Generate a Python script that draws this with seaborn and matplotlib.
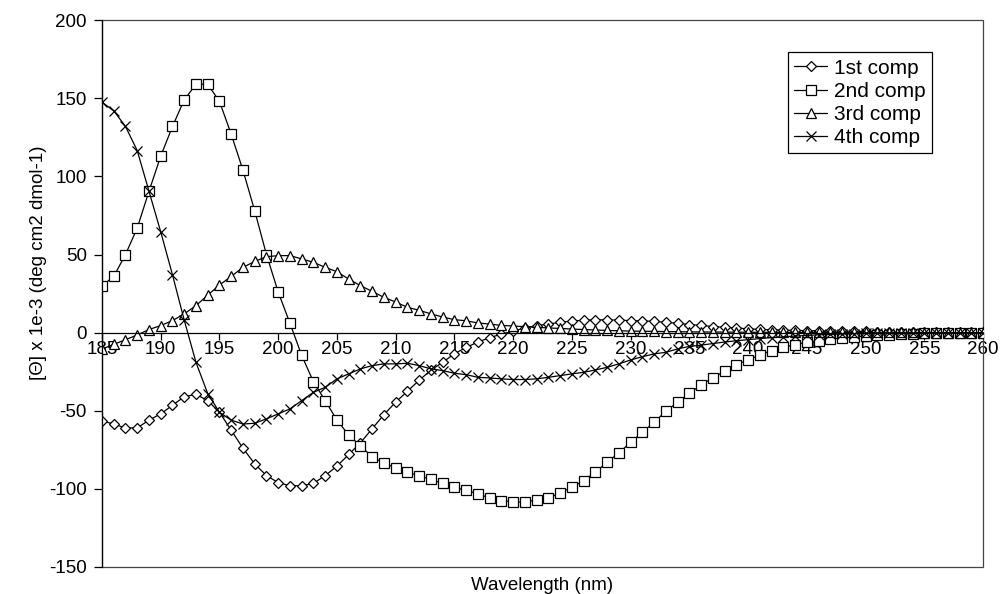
import numpy as np
import matplotlib
matplotlib.use('Agg')
import matplotlib.pyplot as plt
from matplotlib.patches import Rectangle
import seaborn as sns

# wavelengths, one reading per nm
wavelength = np.arange(185, 261)

comp1 = [-56.5, -58.5, -61.0, -61.0, -56.0, -52.0, -46.5, -41.0, -39.5, -43.5,
         -51.0, -62.5, -74.0, -84.0, -91.5, -96.0, -98.0, -98.0, -96.5, -91.5,
         -85.5, -78.0, -70.5, -61.5, -52.5, -44.5, -37.5, -30.5, -24.0, -19.0,
         -13.5, -9.5, -6.0, -3.2, -1.0, 1.0, 3.0, 4.5, 5.5, 6.6,
         7.4, 7.9, 8.2, 8.2, 8.0, 7.7, 7.5, 7.2, 6.6, 6.0,
         5.2, 4.6, 3.9, 3.4, 3.0, 2.4, 2.1, 1.8, 1.6, 1.4,
         1.3, 1.2, 1.1, 1.0, 0.9, 0.8, 0.6, 0.5, 0.4, 0.3,
         0.25, 0.2, 0.15, 0.1, 0.1, 0.1]

comp2 = [30.0, 36.0, 50.0, 67.0, 90.5, 113.0, 132.0, 149.0, 159.0, 159.0,
         148.0, 127.0, 104.0, 78.0, 50.0, 26.0, 6.0, -14.5, -31.5, -43.5,
         -56.0, -65.5, -72.5, -79.5, -83.5, -86.5, -89.5, -91.5, -94.0, -96.5,
         -99.0, -101.0, -103.2, -105.8, -107.5, -108.3, -108.6, -107.0, -106.0, -102.5,
         -99.0, -94.7, -89.4, -83.0, -77.0, -70.2, -63.8, -57.4, -50.3, -44.6,
         -38.8, -33.5, -29.0, -24.7, -20.5, -17.5, -14.3, -11.5, -9.5, -7.6,
         -6.1, -5.1, -4.1, -3.4, -2.7, -2.1, -1.6, -1.2, -0.9, -0.6,
         -0.4, -0.3, -0.2, -0.1, -0.1, 0.0]

comp3 = [-10.5, -7.5, -4.5, -1.5, 2.0, 4.5, 7.7, 12.0, 17.3, 24.0,
         30.5, 36.0, 41.8, 45.6, 48.6, 49.3, 49.3, 47.2, 45.0, 41.8,
         39.0, 34.3, 30.1, 26.4, 22.6, 19.6, 16.2, 14.3, 12.0, 10.0,
         8.3, 7.6, 6.2, 5.5, 4.6, 4.3, 3.8, 3.4, 3.0, 2.7,
         2.3, 2.0, 1.7, 1.4, 1.2, 1.0, 0.9, 0.8, 0.7, 0.6,
         0.5, 0.45, 0.4, 0.35, 0.3, 0.25, 0.2, 0.2, 0.15, 0.15,
         0.1, 0.1, 0.1, 0.1, 0.1, 0.1, 0.1, 0.1, 0.1, 0.1,
         0.05, 0.05, 0.0, 0.0, 0.0, 0.0]

comp4 = [147.5, 142.0, 132.0, 116.5, 90.5, 64.5, 37.0, 8.0, -19.0, -39.0,
         -51.0, -56.0, -58.5, -58.0, -55.2, -52.0, -48.8, -43.5, -38.2, -35.0,
         -29.6, -26.4, -23.2, -21.1, -20.0, -20.0, -19.6, -21.1, -23.2, -24.3,
         -26.0, -26.9, -28.6, -29.0, -29.6, -30.0, -30.0, -29.6, -28.6, -27.5,
         -26.4, -25.4, -23.9, -22.2, -20.0, -17.5, -15.4, -13.6, -12.6, -10.4,
         -8.8, -8.0, -7.0, -6.0, -5.2, -4.5, -3.8, -3.2, -2.7, -2.2,
         -1.8, -1.4, -1.1, -0.9, -0.7, -0.5, -0.4, -0.3, -0.2, -0.2,
         -0.1, -0.1, -0.1, 0.0, 0.0, 0.0]

labels = ['1st comp', '2nd comp', '3rd comp', '4th comp']
series = [comp1, comp2, comp3, comp4]
xticks = list(range(185, 261, 5))
yticks = list(range(-150, 201, 50))

sns.set_style('white')
plt.rcParams['font.family'] = ['Liberation Sans', 'DejaVu Sans']
plt.rcParams['axes.unicode_minus'] = False
plt.rcParams['text.color'] = 'black'
plt.rcParams['axes.labelcolor'] = 'black'
plt.rcParams['xtick.color'] = 'black'
plt.rcParams['ytick.color'] = 'black'

fig, ax = plt.subplots(figsize=(10, 5.94), dpi=100)
fig.subplots_adjust(left=0.102, right=0.983, top=0.966, bottom=0.0455)

marker_styles = [('D', 5.0), ('s', 7.2), ('^', 7.5), ('x', 7.0)]
for name, vals, (mk, ms) in zip(labels, series, marker_styles):
    sns.lineplot(x=wavelength, y=vals, ax=ax, color='black', linewidth=0.9,
                 marker=mk, markersize=ms, markerfacecolor='white',
                 markeredgecolor='black', markeredgewidth=0.9, label=name)

ax.set_xlim(185, 260)
ax.set_ylim(-150, 200)
ax.set_xticks(xticks)
ax.set_yticks(yticks)

# x axis sits on the zero line, plot area has a thin grey frame
ax.spines['bottom'].set_position(('data', 0))
ax.spines['top'].set_visible(False)
ax.spines['right'].set_visible(False)
for s in ['bottom', 'left']:
    ax.spines[s].set_color('black')
    ax.spines[s].set_linewidth(0.9)
ax.add_patch(Rectangle((0, 0), 1, 1, transform=ax.transAxes, fill=False,
                       edgecolor='#444444', linewidth=0.9, clip_on=False))

ax.tick_params(axis='x', bottom=True, direction='out', length=5, width=0.9,
               pad=1, labelsize=13.5)
ax.tick_params(axis='y', left=True, direction='out', length=6, width=0.9,
               pad=5, labelsize=13.5)

ax.set_xlabel('Wavelength (nm)', fontsize=13.5)
ax.xaxis.set_label_coords(0.5, -0.018)
ax.set_ylabel('[\u0398] x 1e-3 (deg cm2 dmol-1)', fontsize=13.5)
ax.yaxis.set_label_coords(-0.062, 0.557)

leg = ax.legend(loc='upper right', bbox_to_anchor=(0.942, 0.941), borderaxespad=0,
                frameon=True, fancybox=False, edgecolor='black', framealpha=1,
                fontsize=15, handlelength=1.55, labelspacing=0.2, borderpad=0.3,
                handletextpad=0.35)
leg.get_frame().set_linewidth(0.9)

fig.savefig('out.png', dpi=100)
plt.close(fig)
